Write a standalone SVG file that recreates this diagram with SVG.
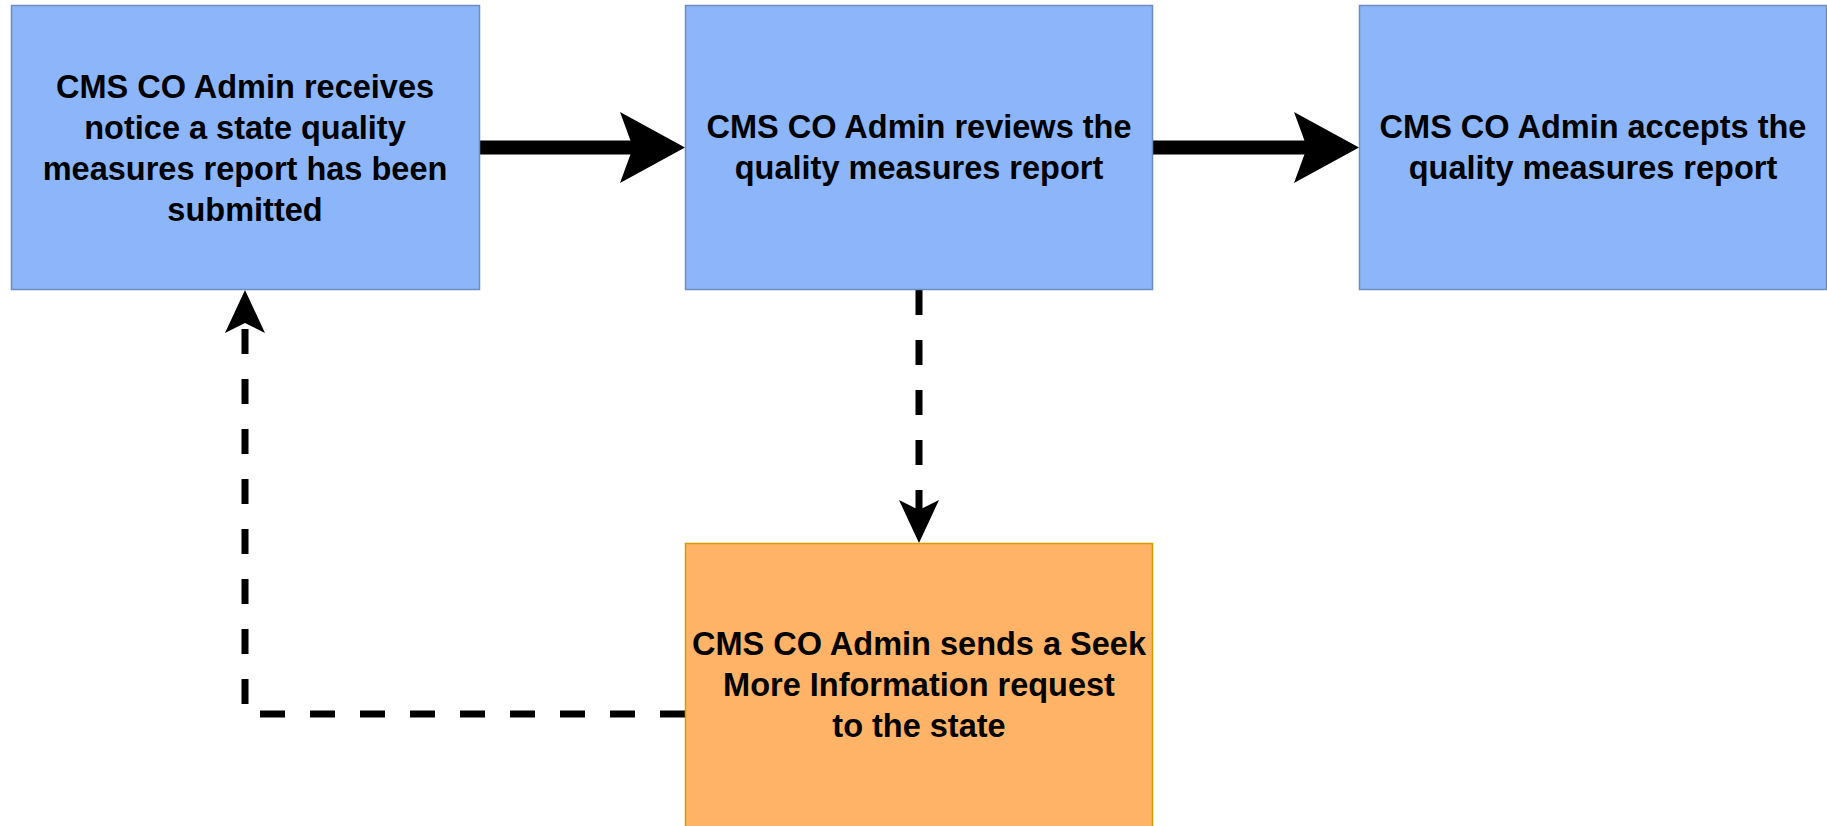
<svg xmlns="http://www.w3.org/2000/svg" width="1827" height="826" viewBox="0 0 1827 826">
<style>
.blue{fill:#8DB6FA;stroke:#6C8EBF;stroke-width:1.5}
.orange{fill:#FFB366;stroke:#D79B00;stroke-width:1.5}
.t{font-family:"Liberation Sans",Arial,sans-serif;font-weight:bold;font-size:32.5px;fill:#000;text-anchor:middle}
.solid{stroke:#000;stroke-width:14;fill:none}
.dash{stroke:#000;stroke-width:7;fill:none;stroke-dasharray:25 25}
.head{fill:#000;stroke:none}
</style>
<rect width="1827" height="826" fill="#fff"/>
<g id="connectors">
<line class="solid" x1="480" y1="147.5" x2="635" y2="147.5"/>
<polygon class="head" points="685,147.5 620,112 633,147.5 620,183"/>
<line class="solid" x1="1153" y1="147.5" x2="1309" y2="147.5"/>
<polygon class="head" points="1359,147.5 1294,112 1307,147.5 1294,183"/>
<path class="dash" d="M919,290 V512"/>
<polygon class="head" points="919,543 899,500 919,510 939,500"/>
<path class="dash" d="M685,714 H245 V325"/>
<polygon class="head" points="245,290 225,333 245,323 265,333"/>
</g>
<g id="node1">
<rect class="blue" x="11.5" y="5.5" width="468" height="284"/>
<text class="t" x="245" y="97.5">CMS CO Admin receives</text>
<text class="t" x="245" y="138.5">notice a state quality</text>
<text class="t" x="245" y="179.5">measures report has been</text>
<text class="t" x="245" y="220.5">submitted</text>
</g>
<g id="node2">
<rect class="blue" x="685.5" y="5.5" width="467" height="284"/>
<text class="t" x="919" y="137.5">CMS CO Admin reviews the</text>
<text class="t" x="919" y="178.5">quality measures report</text>
</g>
<g id="node3">
<rect class="blue" x="1359.5" y="5.5" width="467" height="284"/>
<text class="t" x="1593" y="137.5">CMS CO Admin accepts the</text>
<text class="t" x="1593" y="178.5">quality measures report</text>
</g>
<g id="node4">
<rect class="orange" x="685.5" y="543.5" width="467" height="284"/>
<text class="t" x="919" y="655">CMS CO Admin sends a Seek</text>
<text class="t" x="919" y="696">More Information request</text>
<text class="t" x="919" y="737">to the state</text>
</g>
</svg>
